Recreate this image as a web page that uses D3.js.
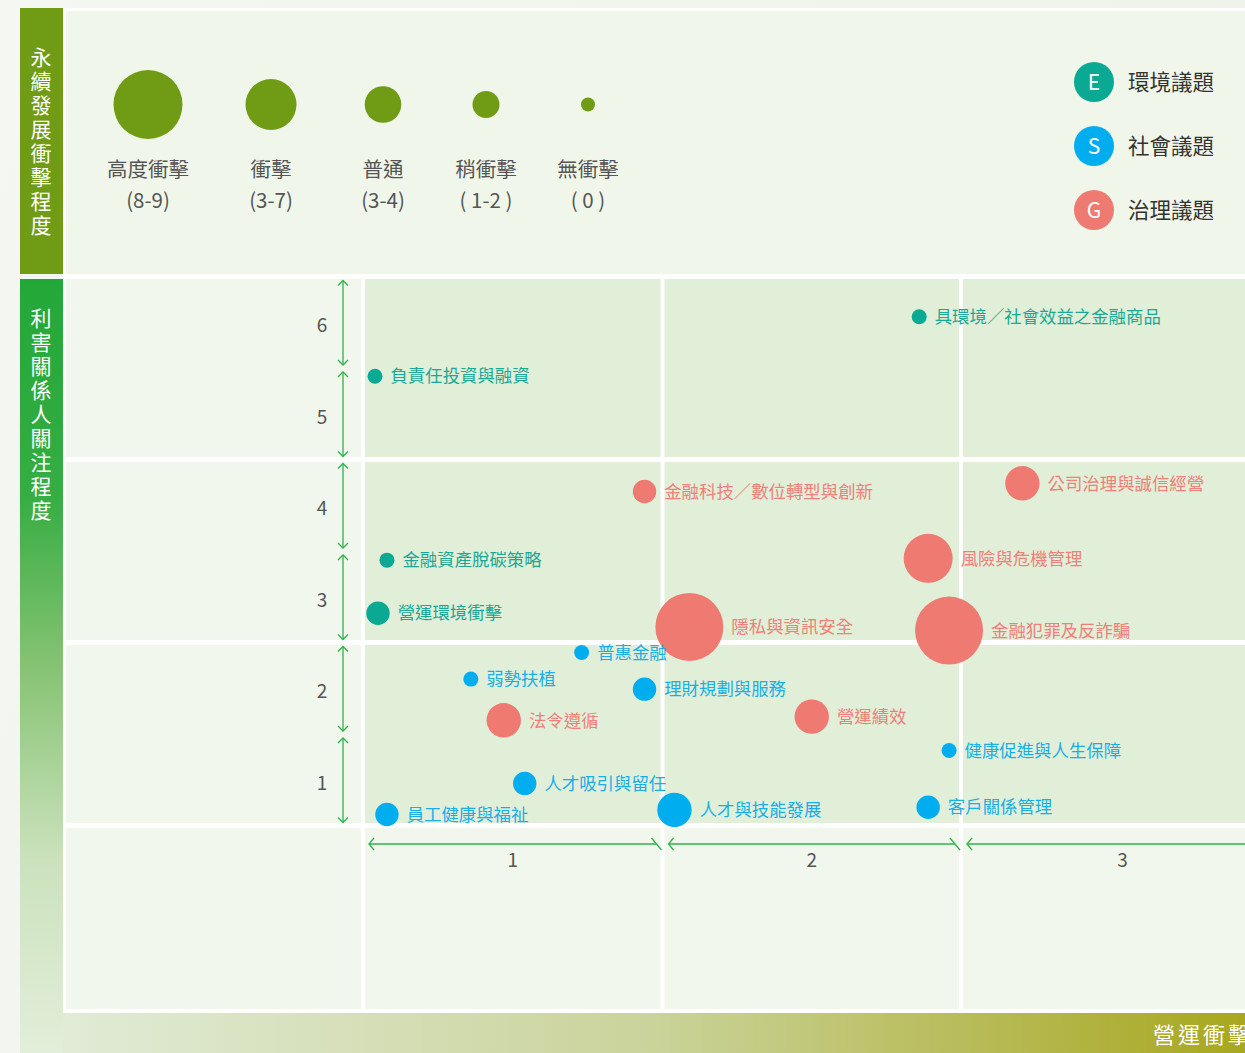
<!DOCTYPE html>
<html><head><meta charset="utf-8">
<script src="https://cdn.jsdelivr.net/npm/d3@7"></script>
<style>
html,body{margin:0;padding:0;background:#eff3ec;overflow:hidden;}
svg{display:block;font-family:"Noto Sans CJK TC","Noto Sans",sans-serif;}
</style></head><body>
<svg id="c" width="1245" height="1053"></svg>
<script>
// ---------- DATA ----------
const issueNames = ["負責任投資與融資","金融資產脫碳策略","營運環境衝擊","具環境／社會效益之金融商品",
  "金融科技／數位轉型與創新","公司治理與誠信經營","風險與危機管理","隱私與資訊安全","金融犯罪及反詐騙","法令遵循","營運績效",
  "普惠金融","弱勢扶植","理財規劃與服務","健康促進與人生保障","人才吸引與留任","客戶關係管理","員工健康與福祉","人才與技能發展"];
const issueCategory = ["E","E","E","E","G","G","G","G","G","G","G","S","S","S","S","S","S","S","S"];
const issueOperationalImpact = [0.04,0.08,0.05,1.86,0.94,2.19,1.89,1.09,1.96,0.47,1.50,0.73,0.36,0.94,1.96,0.54,1.89,0.08,1.04];
const issueStakeholderConcern = [4.91,2.90,2.32,5.56,3.65,3.74,2.92,2.17,2.13,1.15,1.19,1.89,1.60,1.49,0.82,0.46,0.20,0.12,0.17];
const issueSustainImpact = [0,0,1,0,1,2,3,4,4,2,2,0,0,1,0,1,1,1,2];

const categories = ["E","S","G"];
const categoryLabels = ["環境議題","社會議題","治理議題"];
const impactLevels = [4,3,2,1,0];
const impactNames = ["高度衝擊","衝擊","普通","稍衝擊","無衝擊"];
const impactRanges = ["(8-9)","(3-7)","(3-4)","( 1-2 )","( 0 )"];
const xTicks = [1,2,3];
const yTicks = [1,2,3,4,5,6];
const title1 = "永續發展衝擊程度";
const title2 = "利害關係人關注程度";
const title3 = "營運衝擊程度";

// ---------- SCALES ----------
const x = d3.scaleLinear().domain([0,1,2,3]).range([363,662.5,961,1284]);
const y = d3.scaleLinear().domain([0,6]).range([825.5,276.5]);
const color = d3.scaleOrdinal().domain(categories).range(["#0aa994","#00adee","#ef7a72"]);
const textColor = d3.scaleOrdinal().domain(categories).range(["#1aa894","#1aaee6","#ee8079"]);
const r = d3.scaleOrdinal().domain([0,1,2,3,4]).range([7.5,11.7,17.2,24.5,34]);
const legendR = d3.scaleOrdinal().domain([0,1,2,3,4]).range([7,13.5,18.3,25.5,34.5]);
const legendX = d3.scaleLinear().domain([4,3,2,1,0]).range([148,271,383,486,588]);
const catY = d3.scalePoint().domain(categories).range([82,210]);

const svg = d3.select("#c");
const defs = svg.append("defs");

const bgG = defs.append("linearGradient").attr("id","bg").attr("x1",0).attr("y1",0).attr("x2",1).attr("y2",0.3);
bgG.append("stop").attr("offset",0).attr("stop-color","#f4f7f2");
bgG.append("stop").attr("offset",1).attr("stop-color","#eef3ea");
svg.append("rect").attr("width",1245).attr("height",1053).attr("fill","url(#bg)");

const lg = defs.append("linearGradient").attr("id","leftbar").attr("x1",0).attr("y1",0).attr("x2",0).attr("y2",1);
[[0,"#23a838"],[0.28,"#36ad42"],[0.5,"#86c373"],[0.75,"#cbe2bd"],[1,"#e2eed9"]].forEach(s=>lg.append("stop").attr("offset",s[0]).attr("stop-color",s[1]));
const bg2 = defs.append("linearGradient").attr("id","bottombar").attr("x1",0).attr("y1",0).attr("x2",1).attr("y2",0);
[[0,"#e1ebd6"],[0.5,"#cad39a"],[1,"#a8a71f"]].forEach(s=>bg2.append("stop").attr("offset",s[0]).attr("stop-color",s[1]));

svg.append("rect").attr("x",63).attr("y",8).attr("width",1182).attr("height",1005).attr("fill","#ffffff");
svg.append("rect").attr("x",66).attr("y",11).attr("width",1179).attr("height",263).attr("fill","#f0f7ea");
svg.append("rect").attr("x",20).attr("y",8).attr("width",43).attr("height",266).attr("fill","#6f9c14");
svg.append("rect").attr("x",20).attr("y",279).attr("width",43).attr("height",774).attr("fill","url(#leftbar)");
svg.append("rect").attr("x",63).attr("y",1013).attr("width",1182).attr("height",40).attr("fill","url(#bottombar)");

// vertical titles (one text each, vertical writing)
function vtext(str, yTop){
  svg.append("text").attr("x",41).attr("y",yTop)
    .style("writing-mode","vertical-rl").style("text-orientation","upright")
    .attr("fill","#ffffff").attr("font-size",21).attr("letter-spacing",3).text(str);
}
vtext(title1, 47);
vtext(title2, 308);
svg.append("text").attr("x",1153).attr("y",1035).attr("dy","0.36em").attr("fill","#ffffff")
  .attr("font-size",22).attr("letter-spacing",3).text(title3);

// grid cells
const rowBands = [[4,6],[2,4],[0,2]];
const colBands = [[0,1],[1,2],[2,3]];
svg.append("g").selectAll("rect").data(rowBands).join("rect")
  .attr("x",66).attr("width",295)
  .attr("y",d=>y(d[1])+2.5).attr("height",d=>y(d[0])-y(d[1])-5).attr("fill","#f1f7ec");
svg.append("rect").attr("x",66).attr("width",295).attr("y",828).attr("height",181).attr("fill","#f1f7ec");
const cells = [];
rowBands.forEach(rb=>colBands.forEach(cb=>cells.push({rb,cb})));
svg.append("g").selectAll("rect").data(cells).join("rect")
  .attr("x",d=>x(d.cb[0])+2).attr("width",d=>x(d.cb[1])-x(d.cb[0])-4)
  .attr("y",d=>y(d.rb[1])+2.5).attr("height",d=>y(d.rb[0])-y(d.rb[1])-5).attr("fill","#e1eed8");
svg.append("g").selectAll("rect").data(colBands).join("rect")
  .attr("x",d=>x(d[0])+2).attr("width",d=>x(d[1])-x(d[0])-4)
  .attr("y",828).attr("height",181).attr("fill","#f1f7ec");

// arrows
const arrowColor = "#2fb34a";
const ay = svg.append("g").attr("stroke",arrowColor).attr("stroke-width",1.3).attr("fill","none");
yTicks.forEach(k=>{
  const t = y(k)+4, b = y(k-1)-3, ax = 343;
  ay.append("line").attr("x1",ax).attr("x2",ax).attr("y1",t).attr("y2",b);
  ay.append("path").attr("d",`M${ax-5},${t+5}L${ax},${t}L${ax+5},${t+5}`);
  ay.append("path").attr("d",`M${ax-5},${b-5}L${ax},${b}L${ax+5},${b-5}`);
});
const axArrowY = 844;
xTicks.forEach(k=>{
  const l = x(k-1)+6, rr = x(k)-6;
  ay.append("line").attr("x1",l).attr("x2",rr).attr("y1",axArrowY).attr("y2",axArrowY).attr("stroke-width",1.6);
  ay.append("path").attr("d",`M${l+5},${axArrowY-6}L${l},${axArrowY}L${l+5},${axArrowY+6}`);
  ay.append("path").attr("d",`M${rr-5},${axArrowY-6}L${rr},${axArrowY}L${rr+5},${axArrowY+6}`);
});

// tick labels
svg.append("g").selectAll("text").data(yTicks).join("text")
  .attr("x",322).attr("y",d=>y(d-0.5)+3).attr("dy","0.36em").attr("text-anchor","middle")
  .attr("font-size",19).attr("fill","#555").text(d=>d);
svg.append("g").selectAll("text").data(xTicks).join("text")
  .attr("x",d=>(x(d-1)+x(d))/2).attr("y",860).attr("dy","0.36em").attr("text-anchor","middle")
  .attr("font-size",19).attr("fill","#555").text(d=>d);

// legend: impact sizes
const lgI = svg.append("g").selectAll("g").data(impactLevels).join("g");
lgI.append("circle").attr("cx",d=>legendX(d)).attr("cy",104.5).attr("r",d=>legendR(d)).attr("fill","#6f9c14");
lgI.append("text").attr("x",d=>legendX(d)).attr("y",170).attr("dy","0.36em").attr("text-anchor","middle")
  .attr("font-size",20.5).attr("fill","#555").text((d,i)=>impactNames[i]);
lgI.append("text").attr("x",d=>legendX(d)).attr("y",201).attr("dy","0.36em").attr("text-anchor","middle")
  .attr("font-size",20.5).attr("fill","#555").text((d,i)=>impactRanges[i]);

// legend: categories
const lgC = svg.append("g").selectAll("g").data(categories).join("g");
lgC.append("circle").attr("cx",1094).attr("cy",d=>catY(d)).attr("r",20).attr("fill",d=>color(d));
lgC.append("text").attr("x",1094).attr("y",d=>catY(d)).attr("dy","0.36em").attr("text-anchor","middle")
  .attr("fill","#fff").attr("font-size",21).text(d=>d);
lgC.append("text").attr("x",1128).attr("y",d=>catY(d)).attr("dy","0.36em")
  .attr("fill","#333").attr("font-size",21.5).text((d,i)=>categoryLabels[i]);

// bubbles
const issues = issueNames.map((n,i)=>({name:n,cat:issueCategory[i],x:issueOperationalImpact[i],y:issueStakeholderConcern[i],s:issueSustainImpact[i]}));
const bub = svg.append("g").selectAll("g").data(issues).join("g");
bub.append("circle").attr("cx",d=>x(d.x)).attr("cy",d=>y(d.y)).attr("r",d=>r(d.s)).attr("fill",d=>color(d.cat));
bub.append("text").attr("x",d=>x(d.x)+r(d.s)+8).attr("y",d=>y(d.y)).attr("dy","0.36em")
  .attr("font-size",17.4).attr("fill",d=>textColor(d.cat)).text(d=>d.name);
</script>
</body></html>
